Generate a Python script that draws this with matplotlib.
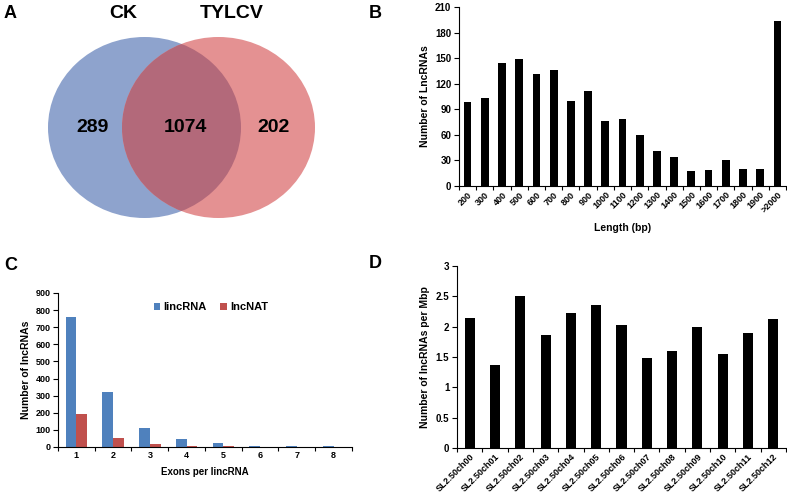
import numpy as np
import matplotlib
matplotlib.use("Agg")
import matplotlib.pyplot as plt
from matplotlib.patches import Ellipse
from matplotlib.ticker import FixedLocator, NullFormatter

plt.rcParams['font.family'] = ['Liberation Sans', 'DejaVu Sans']
plt.rcParams['font.weight'] = 'bold'

# ===== data =====
venn_sets = ["CK", "TYLCV"]
venn_counts = [289, 1074, 202]   # CK only, shared, TYLCV only

len_labels = ["200", "300", "400", "500", "600", "700", "800", "900", "1000",
              "1100", "1200", "1300", "1400", "1500", "1600", "1700", "1800",
              "1900", ">2000"]
len_counts = [98, 103, 144, 149, 131, 136, 100, 112, 76, 79, 60, 41, 34,
              18, 19, 31, 20, 20, 194]

exon_labels = ["1", "2", "3", "4", "5", "6", "7", "8"]
lincrna = [760, 322, 110, 47, 22, 8, 3, 3]
lncnat = [190, 52, 20, 8, 3, 1, 0, 0]

chrom_labels = ["SL2.50ch%02d" % i for i in range(13)]
chrom_density = [2.15, 1.36, 2.50, 1.87, 2.23, 2.35, 2.03, 1.49, 1.60,
                 2.00, 1.55, 1.89, 2.12]

W, H = 787, 498
fig = plt.figure(figsize=(W/100, H/100), dpi=100)

def px_axes(x0, y0, x1, y1):
    # pixel box (top-left origin) -> figure axes
    return fig.add_axes([x0/W, 1 - y1/H, (x1-x0)/W, (y1-y0)/H])

def style_bar_axes(ax, n, ymax, ystep, ylabels, ysize=6.5):
    for s in ("top", "right"):
        ax.spines[s].set_visible(False)
    for s in ("left", "bottom"):
        ax.spines[s].set_linewidth(0.8)
    ax.set_ylim(0, ymax)
    ax.set_yticks(np.arange(0, ymax + ystep/2, ystep))
    ax.set_yticklabels(ylabels)
    ax.tick_params(axis='y', direction='out', length=3.5, width=0.8,
                   labelsize=ysize, pad=2)
    ax.tick_params(axis='x', which='major', length=0, labelsize=6.5, pad=3)
    ax.xaxis.set_minor_locator(FixedLocator(np.arange(n + 1) - 0.5))
    ax.xaxis.set_minor_formatter(NullFormatter())
    ax.tick_params(axis='x', which='minor', direction='out', length=3,
                   width=0.8)

# ===== A: Venn =====
axA = fig.add_axes([0, 0.5, 0.5, 0.5])
axA.set_xlim(0, W/2)
axA.set_ylim(H/2, 0)
axA.axis("off")
ck = Ellipse((144.5, 127.5), 193, 181, color="#8ea3cd", lw=0)
ty = Ellipse((218.5, 127.5), 193, 181, color="#e49192", lw=0)
axA.add_patch(ck)
axA.add_patch(ty)
mid = Ellipse((218.5, 127.5), 193, 181, color="#b3697a", lw=0)
axA.add_patch(mid)
mid.set_clip_path(ck)
axA.text(123, 13, venn_sets[0], ha="center", va="center", fontsize=14, weight="bold")
axA.text(232, 13, venn_sets[1], ha="center", va="center", fontsize=14, weight="bold")
for xx, c in zip([93, 185, 274], venn_counts):
    axA.text(xx, 127, str(c), ha="center", va="center", fontsize=14, weight="bold")

# ===== B: length distribution =====
axB = px_axes(459, 7, 786, 186)
xb = np.arange(len(len_labels))
axB.bar(xb, len_counts, width=0.45, color="black")
axB.set_xlim(-0.5, len(len_labels) - 0.5)
style_bar_axes(axB, len(len_labels), 210, 30,
               [str(v) for v in range(0, 211, 30)], ysize=7)
axB.set_xticks(xb)
axB.set_xticklabels(len_labels, rotation=45, ha="right", rotation_mode="anchor")
axB.set_xlabel("Length (bp)", fontsize=7.5, weight="bold", labelpad=6)
axB.set_ylabel("Number of LncRNAs", fontsize=7.5, weight="bold", labelpad=4)

# ===== C: exon number =====
axC = px_axes(58, 293, 352, 447)
xc = np.arange(len(exon_labels))
bw = 0.29
axC.bar(xc - bw/2, lincrna, width=bw, color="#4f81bd", label="lincRNA")
axC.bar(xc + bw/2, lncnat, width=bw, color="#c0504d", label="lncNAT")
axC.set_xlim(-0.5, len(exon_labels) - 0.5)
style_bar_axes(axC, len(exon_labels), 900, 100,
               [str(v) for v in range(0, 901, 100)])
axC.set_xticks(xc)
axC.set_xticklabels(exon_labels)
axC.set_xlabel("Exons per lincRNA", fontsize=7, weight="bold", labelpad=5)
axC.set_ylabel("Number of lncRNAs", fontsize=7.5, weight="bold", labelpad=3)
axC.legend(loc="upper center", bbox_to_anchor=(0.52, 0.99), ncol=2,
           frameon=False, fontsize=8, handlelength=0.6, handleheight=0.6,
           handletextpad=0.3, columnspacing=1.2, borderpad=0.2)

# ===== D: chromosome density =====
axD = px_axes(457, 266, 786, 448)
xd = np.arange(len(chrom_labels))
axD.bar(xd, chrom_density, width=0.4, color="black")
axD.set_xlim(-0.5, len(chrom_labels) - 0.5)
style_bar_axes(axD, len(chrom_labels), 3, 0.5,
               ["0", "0.5", "1", "1.5", "2", "2.5", "3"], ysize=7)
axD.set_xticks(xd)
axD.set_xticklabels(chrom_labels, rotation=45, ha="right", rotation_mode="anchor")
axD.set_ylabel("Number of lncRNAs per Mbp", fontsize=7.5, weight="bold", labelpad=4)

# ===== panel letters =====
for lab, (px, py) in zip("ABCD", [(4, 13), (369, 13), (4, 265), (369, 263)]):
    fig.text(px/W, 1 - py/H, lab, fontsize=13, weight="bold",
             ha="left", va="center")

fig.savefig("out.png", dpi=100)
